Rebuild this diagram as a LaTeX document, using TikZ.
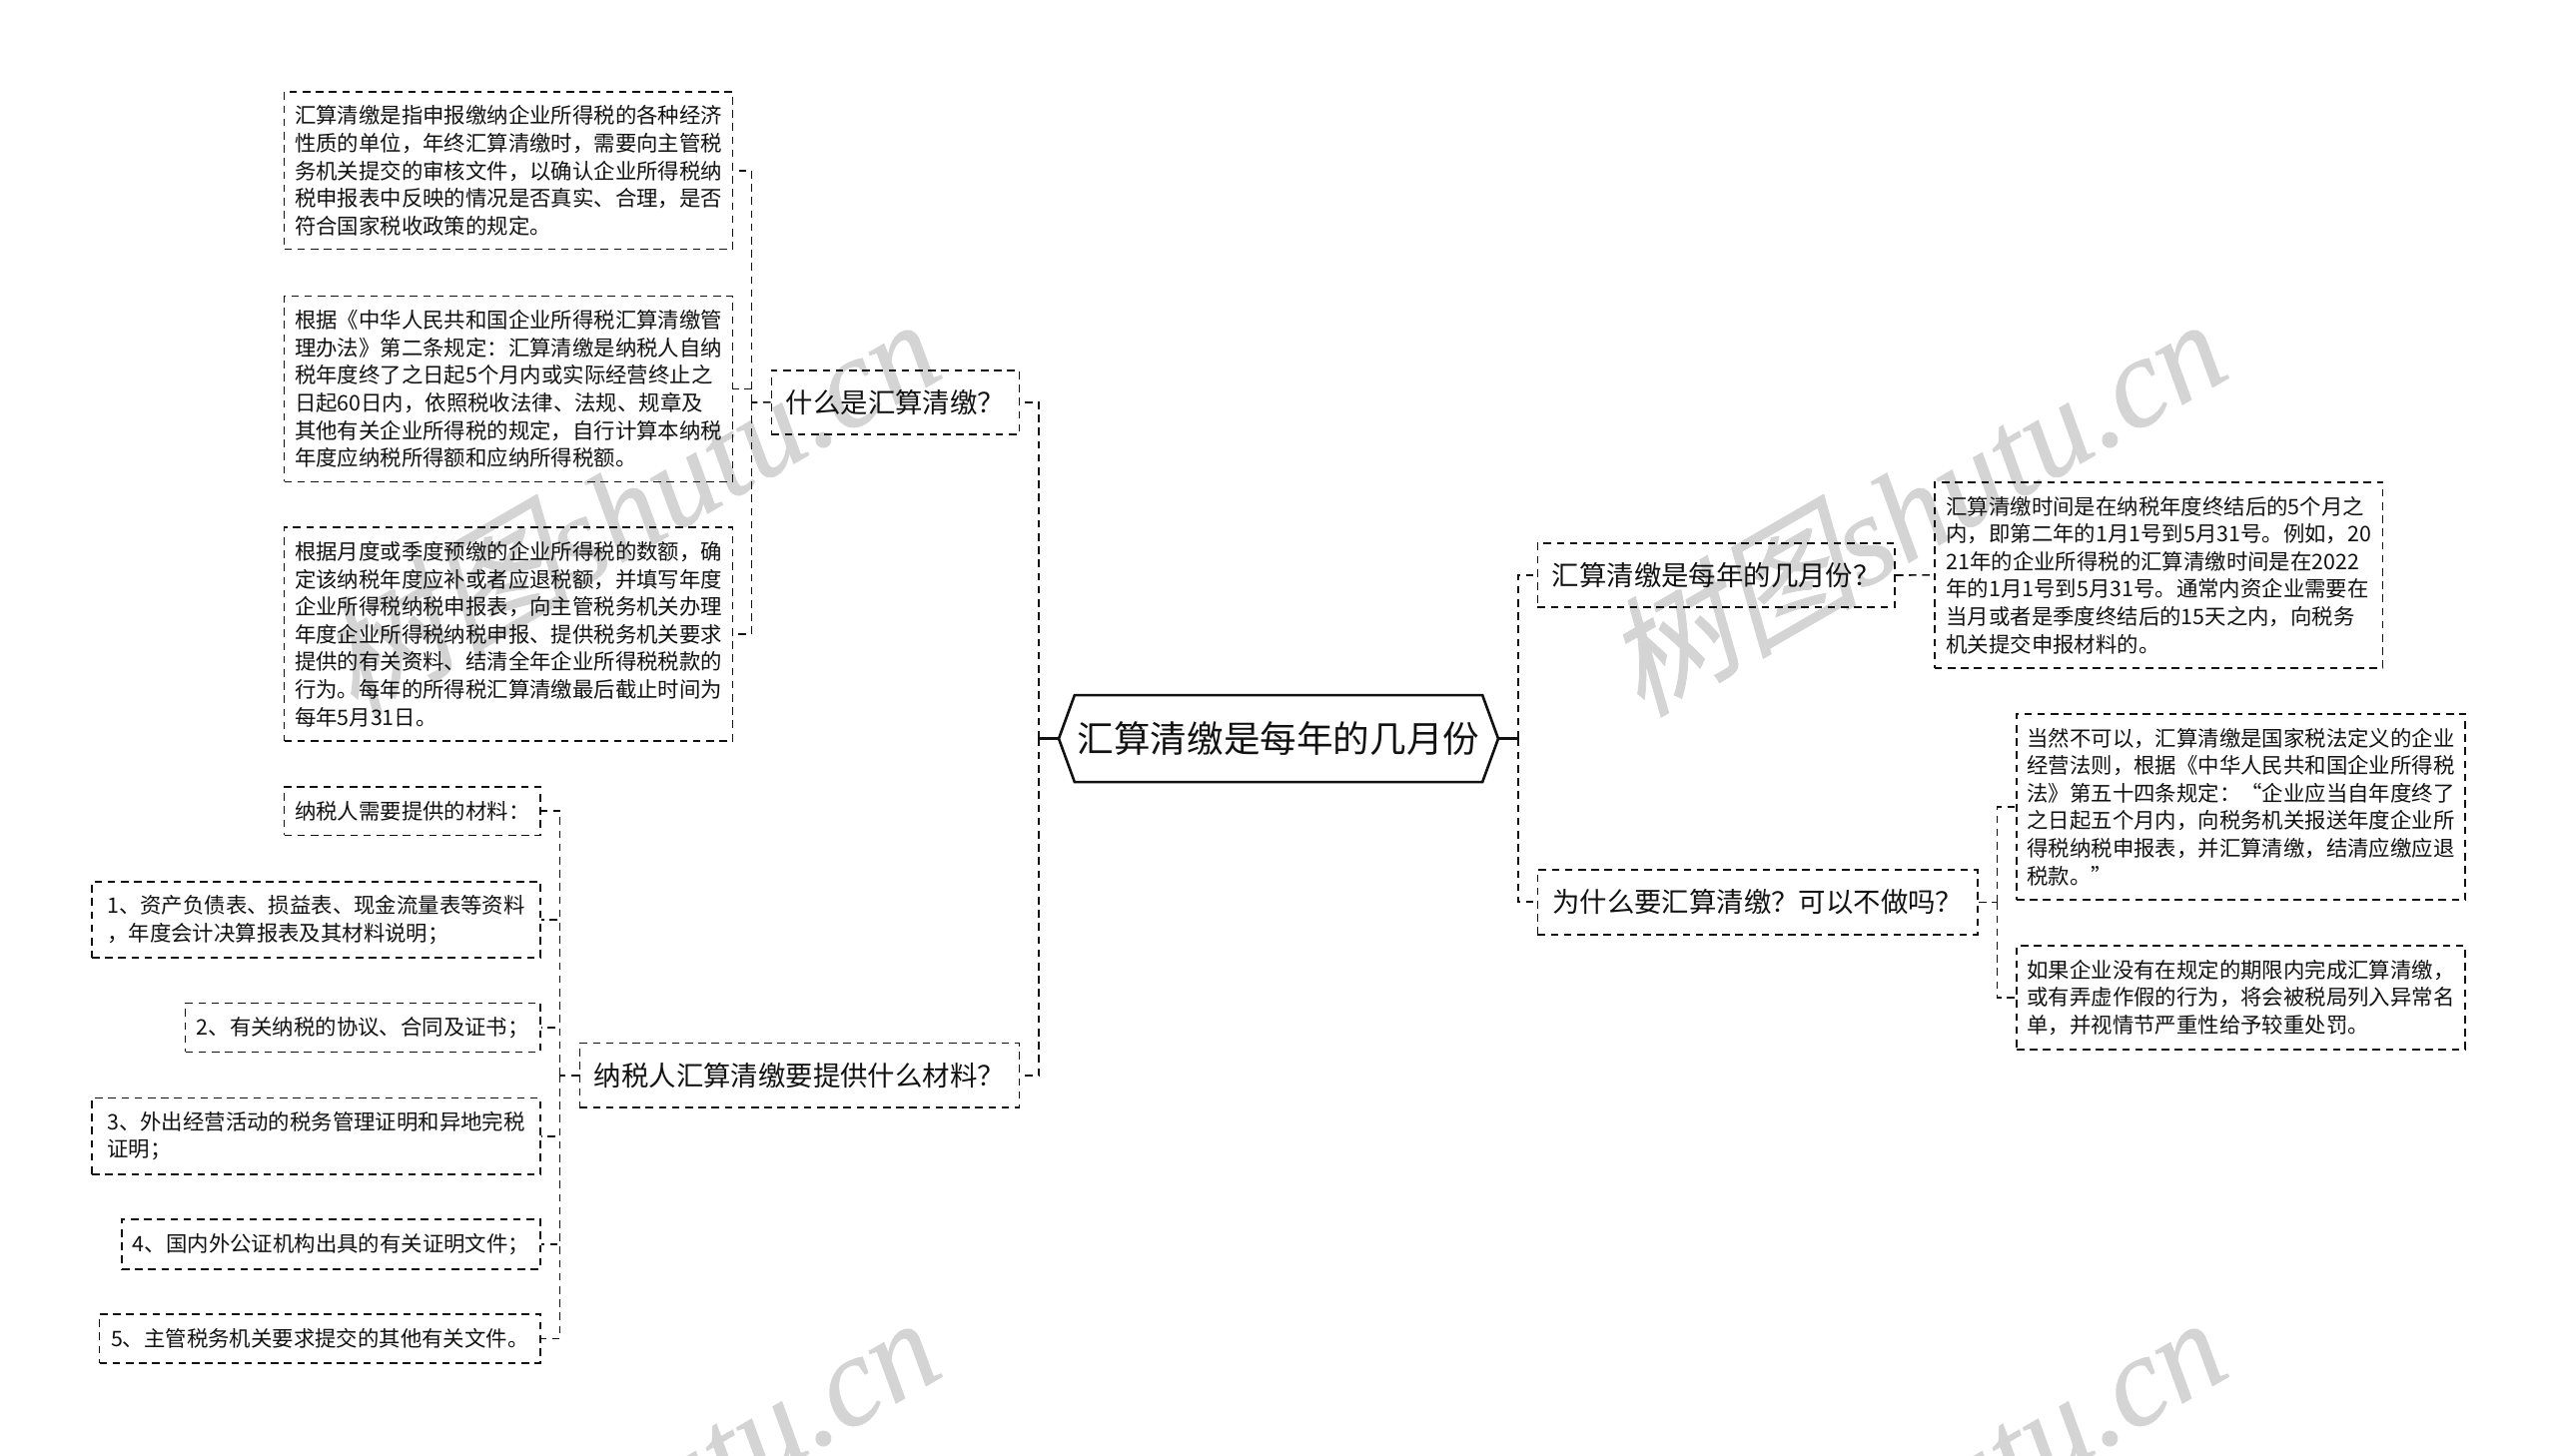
\documentclass[tikz,border=0pt]{standalone}
\usepackage{fontspec}
\setmainfont{Noto Sans CJK SC}
\newfontfamily\markcjk[FakeSlant=0.25,FakeBold=0.6]{Noto Sans CJK SC}
\newfontfamily\marklatin[FakeBold=0.6]{Liberation Serif Italic}
\usetikzlibrary{calc,shapes.symbols}
\definecolor{inkline}{HTML}{111111}
\definecolor{markgray}{HTML}{D4D4D4}
\tikzset{
leafnode/.style={draw=inkline,dash pattern=on 3.8pt off 2.8pt,line width=0.8pt,inner sep=0pt,align=left,text=inkline,font=\fontsize{10.7}{13.8}\selectfont},
headnode/.style={leafnode,line width=0.9pt,font=\fontsize{13.7}{16}\selectfont},
rootnode/.style={draw=inkline,line width=1.3pt,inner sep=0pt,text=inkline,font=\fontsize{18.3}{22}\selectfont,signal,signal to=east and west,signal pointer angle=140},
leaflink/.style={draw=inkline,dash pattern=on 3.8pt off 2.8pt,line width=0.8pt},
mainlink/.style={draw=inkline,dash pattern=on 3.8pt off 2.8pt,line width=1.1pt},
rootlink/.style={draw=inkline,line width=1.3pt},
markstyle/.style={text=markgray,rotate=30,inner sep=0pt}
}
\newcommand{\boxat}[7]{%
\node[#1,minimum width={(#5-#3)*0.5pt},minimum height={(#6-#4)*0.5pt}] (#2) at ($(#3,#4)!0.5!(#5,#6)$) {#7};
}
\newcommand{\linkleaf}[2]{%
\draw[leaflink] (#1) |- (#2);
}
\newcommand{\linkmain}[2]{%
\draw[mainlink] (#1) |- (#2);
}
\newcommand{\markat}[3]{%
\node[markstyle] (#1) at (#2,#3) {\fontsize{64}{64}\selectfont{\markcjk 树图}{\marklatin shutu.cn}};
}

\begin{document}
\begin{tikzpicture}[x=0.5pt,y=-0.5pt]

\useasboundingbox (0,0) rectangle (2560,1457);

% watermark
\begin{scope}
\clip (0,0) rectangle (2560,1457);
\markat{markA}{627}{505}
\markat{markB}{1915}{505}
\markat{markC}{627}{1505}
\markat{markD}{1915}{1505}
\end{scope}

% centre
\node[rootnode,minimum width=220pt,minimum height=43.5pt] (root) at (1280,739.6) {汇算清缴是每年的几月份};

\coordinate (forkL) at (1040,739.6);
\coordinate (forkR) at (1519.6,739.6);

% left side, upper
\boxat{headnode}{headA}{772.4}{370.8}{1020.5}{435}{什么是汇算清缴？}
\coordinate (forkA) at (752.6,403);

\boxat{leafnode}{leafAa}{284.5}{92}{733.5}{249.6}{汇算清缴是指申报缴纳企业所得税的各种经济\\性质的单位，年终汇算清缴时，需要向主管税\\务机关提交的审核文件，以确认企业所得税纳\\税申报表中反映的情况是否真实、合理，是否\\符合国家税收政策的规定。}
\boxat{leafnode}{leafAb}{284.5}{296.5}{733.5}{482.4}{根据《中华人民共和国企业所得税汇算清缴管\\理办法》第二条规定：汇算清缴是纳税人自纳\\税年度终了之日起5个月内或实际经营终止之\\日起60日内，依照税收法律、法规、规章及\\其他有关企业所得税的规定，自行计算本纳税\\年度应纳税所得额和应纳所得税额。}
\boxat{leafnode}{leafAc}{284.5}{528}{733.5}{742}{根据月度或季度预缴的企业所得税的数额，确\\定该纳税年度应补或者应退税额，并填写年度\\企业所得税纳税申报表，向主管税务机关办理\\年度企业所得税纳税申报、提供税务机关要求\\提供的有关资料、结清全年企业所得税税款的\\行为。每年的所得税汇算清缴最后截止时间为\\每年5月31日。}

% left side, lower
\boxat{headnode}{headB}{580.4}{1044.4}{1020.5}{1109}{纳税人汇算清缴要提供什么材料？}
\coordinate (forkB) at (560.6,1076.7);

\boxat{leafnode}{leafBa}{284.5}{788}{541}{836.4}{纳税人需要提供的材料：}
\boxat{leafnode}{leafBb}{92}{883}{541}{958.7}{1、资产负债表、损益表、现金流量表等资料\\，年度会计决算报表及其材料说明；}
\boxat{leafnode}{leafBc}{185.6}{1004.4}{541}{1053.3}{2、有关纳税的协议、合同及证书；}
\boxat{leafnode}{leafBd}{92}{1099.6}{541}{1176}{3、外出经营活动的税务管理证明和异地完税\\证明；}
\boxat{leafnode}{leafBe}{122}{1221}{541}{1270.7}{4、国内外公证机构出具的有关证明文件；}
\boxat{leafnode}{leafBf}{99.5}{1316}{541}{1365}{5、主管税务机关要求提交的其他有关文件。}

% right side
\boxat{headnode}{headC}{1539.4}{544}{1897}{608}{汇算清缴是每年的几月份？}
\boxat{leafnode}{leafCa}{1936.8}{482.7}{2385.6}{669}{汇算清缴时间是在纳税年度终结后的5个月之\\内，即第二年的1月1号到5月31号。例如，20\\21年的企业所得税的汇算清缴时间是在2022\\年的1月1号到5月31号。通常内资企业需要在\\当月或者是季度终结后的15天之内，向税务\\机关提交申报材料的。}

\boxat{headnode}{headD}{1539.4}{871}{1980}{935.6}{为什么要汇算清缴？可以不做吗？}
\coordinate (forkD) at (1999.4,903.3);

\boxat{leafnode}{leafDa}{2019}{714.7}{2468}{901}{当然不可以，汇算清缴是国家税法定义的企业\\经营法则，根据《中华人民共和国企业所得税\\法》第五十四条规定：“企业应当自年度终了\\之日起五个月内，向税务机关报送年度企业所\\得税纳税申报表，并汇算清缴，结清应缴应退\\税款。”}
\boxat{leafnode}{leafDb}{2019}{947}{2468}{1050.7}{如果企业没有在规定的期限内完成汇算清缴，\\或有弄虚作假的行为，将会被税局列入异常名\\单，并视情节严重性给予较重处罚。}

% connectors
\draw[rootlink] (root.west) -- (forkL);
\draw[rootlink] (root.east) -- (forkR);
\linkmain{forkL}{headA.east}
\linkmain{forkL}{headB.east}
\linkmain{forkR}{headC.west}
\linkmain{forkR}{headD.west}

\draw[leaflink] (headA.west) -- (forkA);
\linkleaf{forkA}{leafAa.east}
\linkleaf{forkA}{leafAb.east}
\linkleaf{forkA}{leafAc.east}

\draw[leaflink] (headB.west) -- (forkB);
\linkleaf{forkB}{leafBa.east}
\linkleaf{forkB}{leafBb.east}
\linkleaf{forkB}{leafBc.east}
\linkleaf{forkB}{leafBd.east}
\linkleaf{forkB}{leafBe.east}
\linkleaf{forkB}{leafBf.east}

\draw[leaflink] (headC.east) -- (leafCa.west);

\draw[leaflink] (headD.east) -- (forkD);
\linkleaf{forkD}{leafDa.west}
\linkleaf{forkD}{leafDb.west}

\end{tikzpicture}
\end{document}
